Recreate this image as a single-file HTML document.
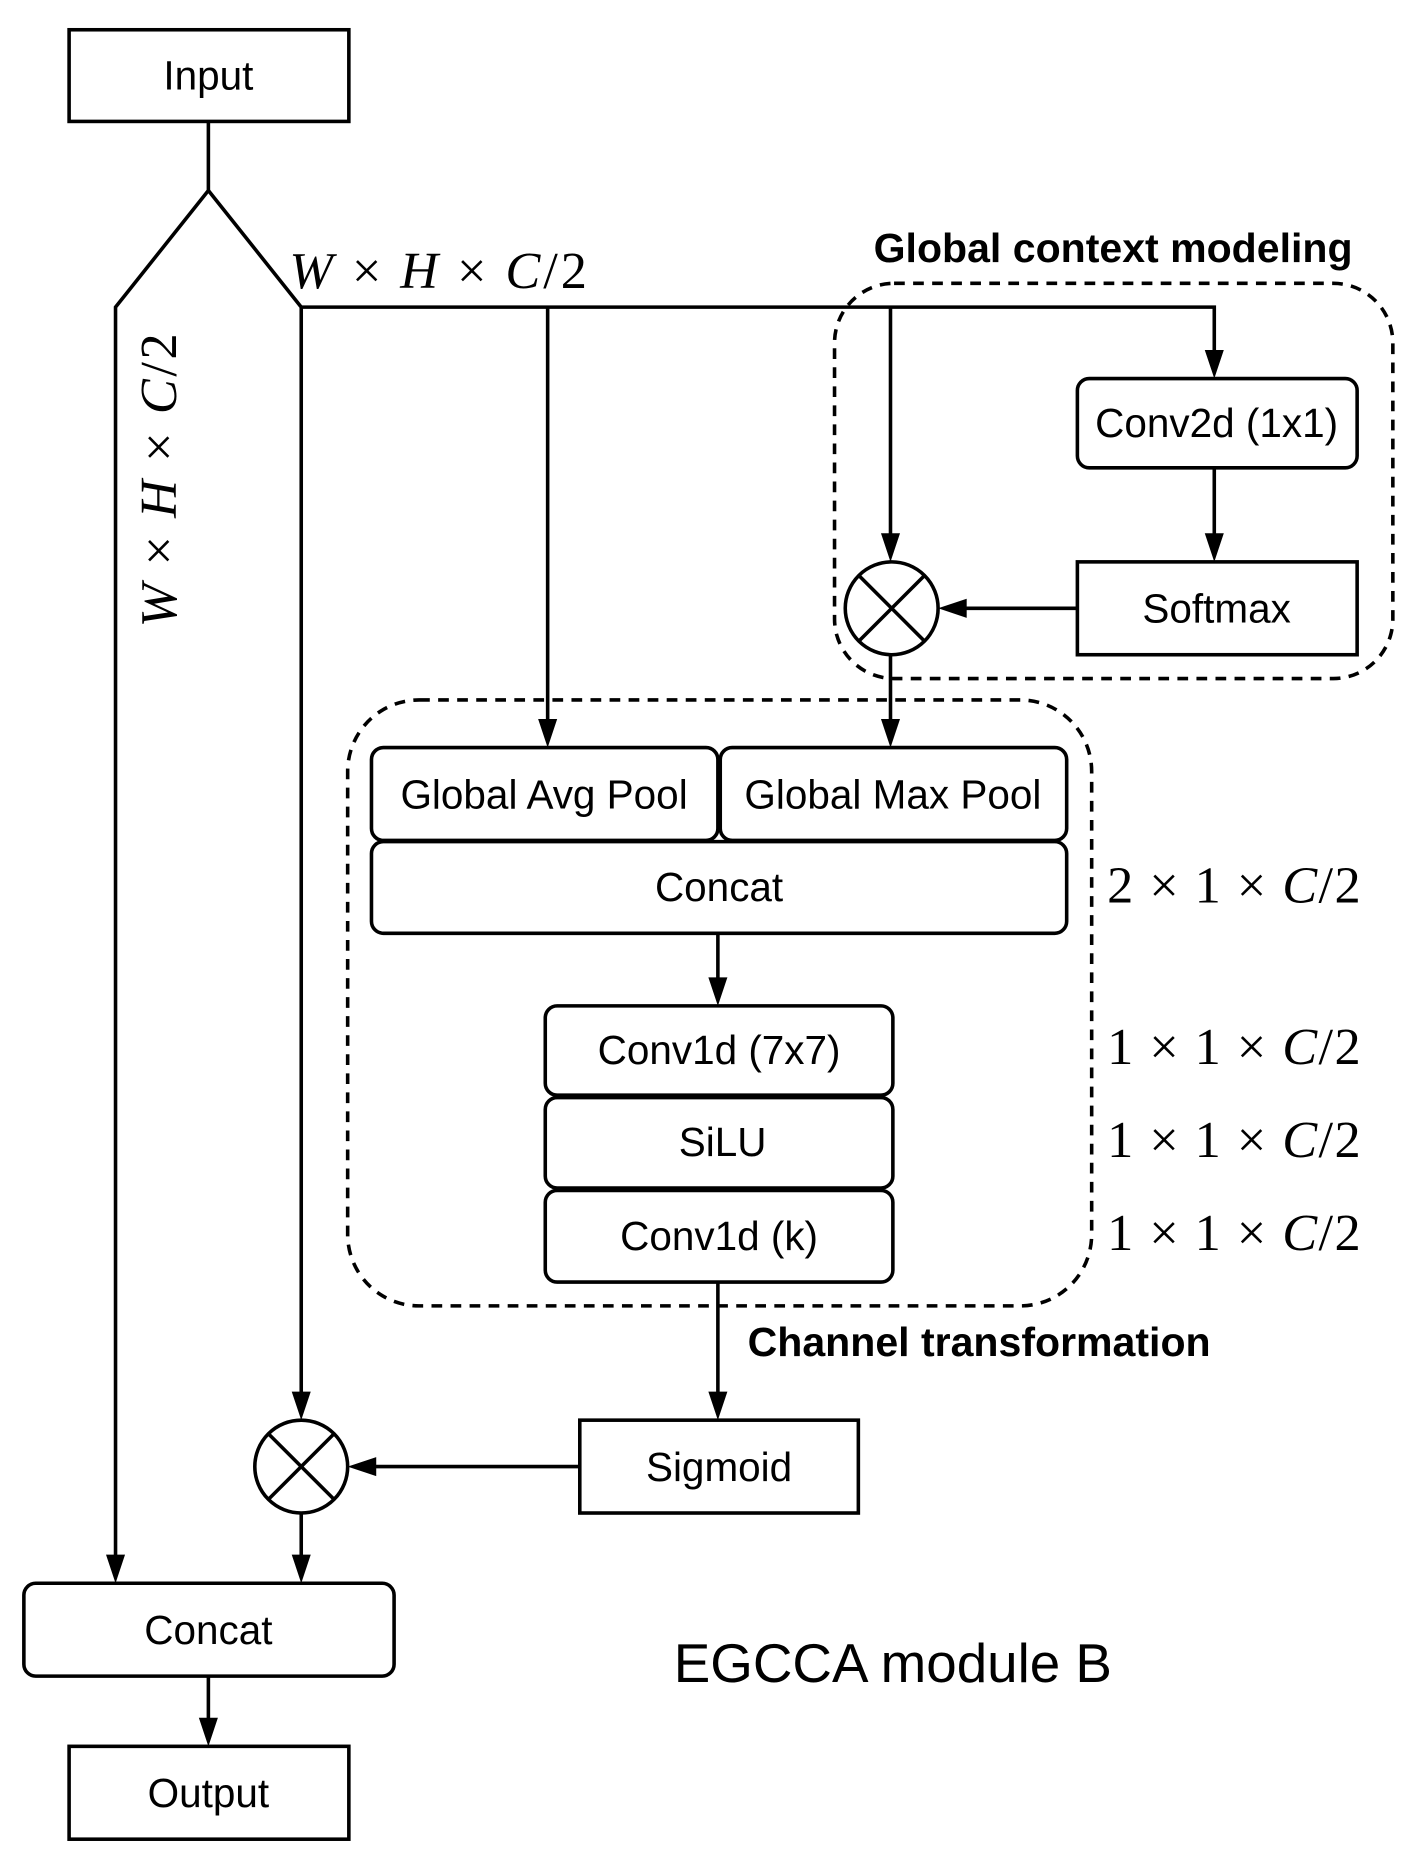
<!DOCTYPE html>
<html><head><meta charset="utf-8"><style>html,body{margin:0;padding:0;background:#fff}svg{display:block}</style></head>
<body>
<svg width="1406" height="1863" viewBox="0 0 1181 1565" xmlns="http://www.w3.org/2000/svg">
<g fill="none" stroke="#000" stroke-width="3">
<rect x="701" y="238" width="469" height="332" rx="50" stroke-dasharray="9,7"/>
<rect x="292" y="588" width="625" height="509" rx="60" stroke-dasharray="9,7"/>
<rect x="58" y="25" width="235" height="77"/>
<rect x="905" y="318" width="235" height="75" rx="10"/>
<rect x="905" y="472" width="235" height="78"/>
<rect x="312" y="628" width="291" height="78" rx="10"/>
<rect x="605" y="628" width="291" height="78" rx="10"/>
<rect x="312" y="707" width="584" height="77" rx="10"/>
<rect x="458" y="845" width="292" height="75" rx="10"/>
<rect x="458" y="922" width="292" height="76" rx="10"/>
<rect x="458" y="1000" width="292" height="77" rx="10"/>
<rect x="487" y="1193" width="234" height="78"/>
<rect x="20" y="1330" width="311" height="78" rx="10"/>
<rect x="58" y="1467" width="235" height="78"/>
<circle cx="749" cy="511" r="39"/>
<line x1="721" y1="483" x2="777" y2="539"/><line x1="777" y1="483" x2="721" y2="539"/>
<circle cx="253" cy="1232" r="39"/>
<line x1="225" y1="1204" x2="281" y2="1260"/><line x1="281" y1="1204" x2="225" y2="1260"/>
<polyline points="175,102 175,160 97,258 97,1318"/>
<polyline points="175,160 253,258 253,1180"/>
<polyline points="253,258 1020,258 1020,308"/>
<line x1="460" y1="258" x2="460" y2="618"/>
<line x1="748" y1="258" x2="748" y2="460"/>
<line x1="1020" y1="393" x2="1020" y2="462"/>
<line x1="905" y1="511" x2="800" y2="511"/>
<line x1="748" y1="550" x2="748" y2="618"/>
<line x1="603" y1="784" x2="603" y2="835"/>
<line x1="603" y1="1077" x2="603" y2="1183"/>
<line x1="487" y1="1232" x2="304" y2="1232"/>
<line x1="253" y1="1271" x2="253" y2="1320"/>
<line x1="175" y1="1408" x2="175" y2="1457"/>
</g>
<g fill="#000">
<polygon points="89,1306 105,1306 97,1330"/>
<polygon points="245,1169 261,1169 253,1193"/>
<polygon points="1012,294 1028,294 1020,318"/>
<polygon points="452,604 468,604 460,628"/>
<polygon points="740,448 756,448 748,472"/>
<polygon points="1012,448 1028,448 1020,472"/>
<polygon points="812,503 812,519 788,511"/>
<polygon points="740,604 756,604 748,628"/>
<polygon points="595,821 611,821 603,845"/>
<polygon points="595,1169 611,1169 603,1193"/>
<polygon points="316,1224 316,1240 292,1232"/>
<polygon points="245,1306 261,1306 253,1330"/>
<polygon points="167,1443 183,1443 175,1467"/>
</g>
<g font-family="Liberation Sans, sans-serif" font-size="34" text-anchor="middle" fill="#000">
<text x="175" y="75">Input</text>
<text x="1022" y="367">Conv2d (1x1)</text>
<text x="1022" y="523">Softmax</text>
<text x="457" y="679">Global Avg Pool</text>
<text x="750" y="679">Global Max Pool</text>
<text x="604" y="757">Concat</text>
<text x="604" y="894">Conv1d (7x7)</text>
<text x="607" y="971">SiLU</text>
<text x="604" y="1050">Conv1d (k)</text>
<text x="604" y="1244">Sigmoid</text>
<text x="175" y="1381">Concat</text>
<text x="175" y="1518">Output</text>
<text x="750" y="1413" font-size="46">EGCCA module B</text>
<text x="935" y="220" font-weight="bold" font-size="34.5">Global context modeling</text>
<text x="628" y="1139" font-weight="bold" font-size="34.5" text-anchor="start">Channel transformation</text>
</g>
<g font-family="Liberation Serif, serif" font-size="44" fill="#000">
<text x="243" y="242" textLength="250" lengthAdjust="spacing"><tspan font-style="italic">W</tspan> × <tspan font-style="italic">H</tspan> × <tspan font-style="italic">C</tspan>/2</text>
<text transform="translate(148,527) rotate(-90)" textLength="247" lengthAdjust="spacing"><tspan font-style="italic">W</tspan> × <tspan font-style="italic">H</tspan> × <tspan font-style="italic">C</tspan>/2</text>
<text x="930" y="758" textLength="213" lengthAdjust="spacing">2 × 1 × <tspan font-style="italic">C</tspan>/2</text>
<text x="930" y="894" textLength="213" lengthAdjust="spacing">1 × 1 × <tspan font-style="italic">C</tspan>/2</text>
<text x="930" y="972" textLength="213" lengthAdjust="spacing">1 × 1 × <tspan font-style="italic">C</tspan>/2</text>
<text x="930" y="1050" textLength="213" lengthAdjust="spacing">1 × 1 × <tspan font-style="italic">C</tspan>/2</text>
</g>
</svg>
</body></html>
